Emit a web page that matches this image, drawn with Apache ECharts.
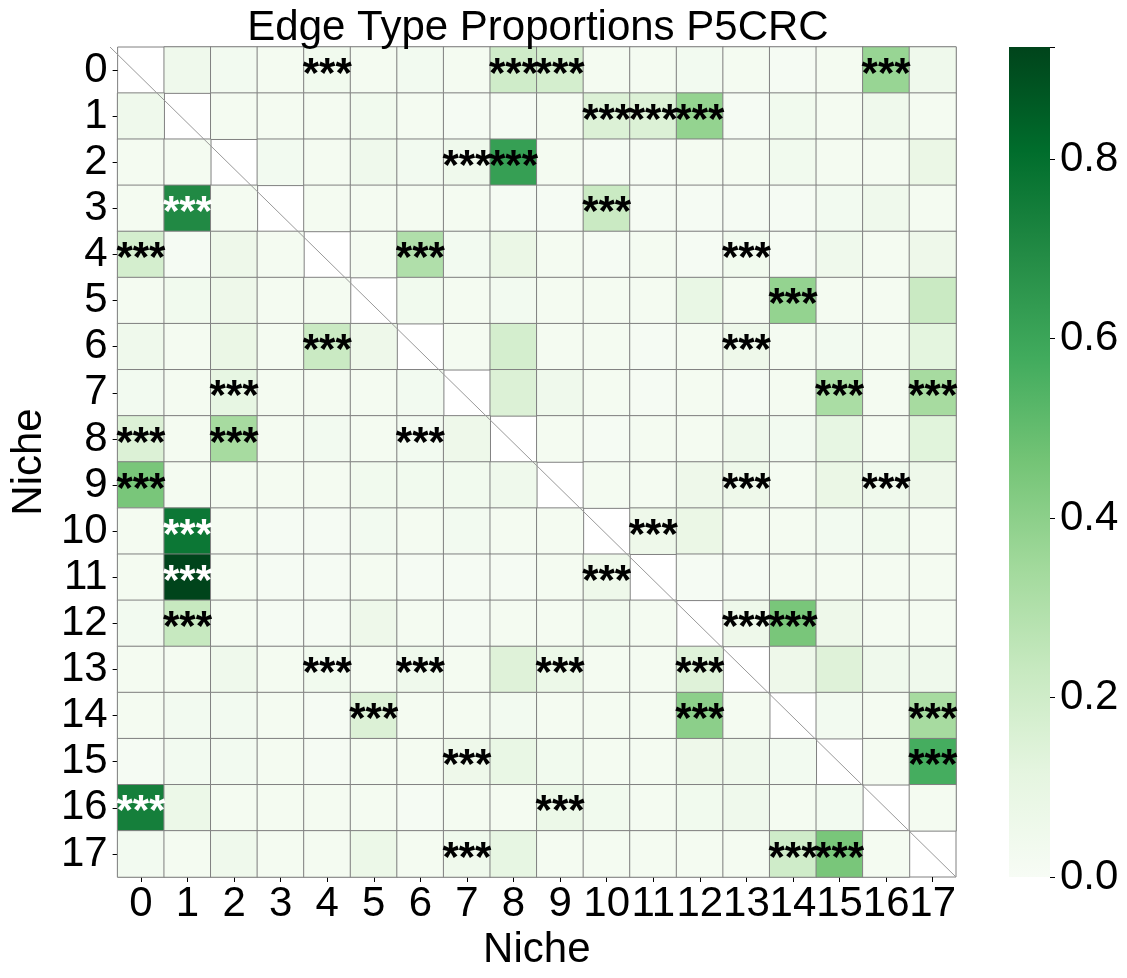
<!DOCTYPE html>
<html>
<head>
<meta charset="utf-8">
<script src="https://cdn.jsdelivr.net/npm/echarts@6/dist/echarts.min.js"></script>
<style>
    html, body {margin: 0; padding: 0; background: #fff;}
    #chart {width: 1127px; height: 978px;}
</style>
</head>
<body>
<div id="chart"></div>
<script>
const niches = ['0', '1', '2', '3', '4', '5', '6', '7', '8', '9', '10', '11', '12', '13', '14', '15', '16', '17'];

// row = source niche (y), column = target niche (x); diagonal is empty
const proportions = [
    [null, 0.05, 0.03, 0.02, 0.04, 0.02, 0.03, 0.02, 0.20, 0.18, 0.02, 0.02, 0.03, 0.02, 0.01, 0.02, 0.37, 0.05],
    [0.05, null, 0.02, 0.02, 0.02, 0.04, 0.02, 0.01, 0.01, 0.02, 0.15, 0.15, 0.38, 0.01, 0.04, 0.02, 0.05, 0.02],
    [0.02, 0.02, null, 0.03, 0.02, 0.05, 0.03, 0.05, 0.62, 0.02, 0.01, 0.01, 0.02, 0.02, 0.04, 0.02, 0.02, 0.08],
    [0.02, 0.70, 0.02, null, 0.02, 0.02, 0.02, 0.02, 0.01, 0.01, 0.22, 0.01, 0.01, 0.01, 0.01, 0.03, 0.05, 0.02],
    [0.18, 0.01, 0.06, 0.02, null, 0.02, 0.30, 0.03, 0.08, 0.02, 0.01, 0.02, 0.01, 0.04, 0.01, 0.05, 0.02, 0.06],
    [0.02, 0.04, 0.06, 0.02, 0.02, null, 0.04, 0.02, 0.03, 0.02, 0.02, 0.02, 0.09, 0.02, 0.38, 0.02, 0.02, 0.22],
    [0.05, 0.02, 0.08, 0.02, 0.22, 0.06, null, 0.02, 0.18, 0.02, 0.02, 0.01, 0.02, 0.06, 0.02, 0.03, 0.02, 0.12],
    [0.03, 0.02, 0.10, 0.02, 0.02, 0.02, 0.03, null, 0.15, 0.05, 0.02, 0.01, 0.02, 0.01, 0.02, 0.32, 0.02, 0.33],
    [0.15, 0.02, 0.33, 0.02, 0.03, 0.02, 0.03, 0.06, null, 0.02, 0.01, 0.02, 0.02, 0.05, 0.03, 0.10, 0.02, 0.13],
    [0.45, 0.02, 0.02, 0.02, 0.02, 0.04, 0.04, 0.04, 0.05, null, 0.02, 0.02, 0.06, 0.06, 0.02, 0.08, 0.05, 0.06],
    [0.02, 0.77, 0.02, 0.01, 0.01, 0.03, 0.02, 0.03, 0.02, 0.02, null, 0.06, 0.08, 0.02, 0.02, 0.03, 0.04, 0.02],
    [0.02, 0.925, 0.02, 0.01, 0.01, 0.02, 0.01, 0.01, 0.01, 0.02, 0.06, null, 0.01, 0.01, 0.02, 0.02, 0.02, 0.02],
    [0.03, 0.23, 0.02, 0.01, 0.01, 0.06, 0.02, 0.01, 0.02, 0.02, 0.04, 0.02, null, 0.06, 0.45, 0.06, 0.02, 0.02],
    [0.02, 0.02, 0.05, 0.02, 0.04, 0.02, 0.05, 0.02, 0.14, 0.07, 0.02, 0.02, 0.14, null, 0.06, 0.14, 0.05, 0.05],
    [0.02, 0.03, 0.03, 0.02, 0.01, 0.15, 0.02, 0.02, 0.03, 0.02, 0.02, 0.02, 0.40, 0.02, null, 0.03, 0.02, 0.33],
    [0.01, 0.03, 0.03, 0.02, 0.01, 0.02, 0.02, 0.06, 0.09, 0.04, 0.02, 0.02, 0.06, 0.05, 0.03, null, 0.02, 0.57],
    [0.74, 0.07, 0.02, 0.02, 0.02, 0.02, 0.01, 0.02, 0.02, 0.07, 0.04, 0.02, 0.04, 0.05, 0.02, 0.03, null, 0.02],
    [0.03, 0.02, 0.05, 0.02, 0.02, 0.07, 0.02, 0.05, 0.10, 0.02, 0.02, 0.02, 0.02, 0.02, 0.20, 0.45, 0.02, null]
];

// cells marked *** : [row, col]
const significant = [
    [0, 4], [0, 8], [0, 9], [0, 16],
    [1, 10], [1, 11], [1, 12],
    [2, 7], [2, 8],
    [3, 1], [3, 10],
    [4, 0], [4, 6], [4, 13],
    [5, 14],
    [6, 4], [6, 13],
    [7, 2], [7, 15], [7, 17],
    [8, 0], [8, 2], [8, 6],
    [9, 0], [9, 13], [9, 16],
    [10, 1], [10, 11],
    [11, 1], [11, 10],
    [12, 1], [12, 13], [12, 14],
    [13, 4], [13, 6], [13, 9], [13, 12],
    [14, 5], [14, 12], [14, 17],
    [15, 7], [15, 17],
    [16, 0], [16, 9],
    [17, 7], [17, 14], [17, 15]
];

const colorTicks = [0, 0.2, 0.4, 0.6, 0.8];
const vmax = 0.925;

const greens = ['#f7fcf5', '#e5f5e0', '#c7e9c0', '#a1d99b', '#74c476', '#41ab5d', '#238b45', '#006d2c', '#00441b'];
const FONT = '"Liberation Sans", Arial, sans-serif';
const FS = 42;

const sigSet = new Set(significant.map(p => p[0] + '_' + p[1]));

let cells = [];
proportions.forEach((row, r) => {
    row.forEach((v, c) => {
        if (v === null) {
            cells.push([c, r, '-']);
            return;
        }
        let item = {value: [c, r, v]};
        if (sigSet.has(r + '_' + c)) {
            item.label = {
                show: true,
                formatter: '***',
                color: v > 0.65 ? '#ffffff' : '#000000'
            };
        }
        cells.push(item);
    });
});

const grid = {left: 110, top: 47, width: 846, height: 830};

let option = {
    backgroundColor: '#ffffff',
    animation: false,
    textStyle: {fontFamily: FONT},
    title: {
        text: 'Edge Type Proportions P5CRC',
        left: 533,
        textAlign: 'center',
        top: 2,
        textStyle: {fontSize: FS, fontWeight: 'normal', color: '#000', fontFamily: FONT}
    },
    visualMap: {
        show: false,
        min: 0,
        max: vmax,
        dimension: 2,
        seriesIndex: 0,
        inRange: {color: greens}
    },
    grid: [
        Object.assign({show: true, borderColor: '#808080', borderWidth: 1, backgroundColor: 'transparent'}, grid),
        {left: 1009, top: 47, width: 41, height: 830},
        grid
    ],
    xAxis: [
        {
            type: 'category',
            gridIndex: 0,
            data: niches,
            name: 'Niche',
            nameLocation: 'middle',
            nameGap: 50,
            nameTextStyle: {fontSize: FS, color: '#000', fontFamily: FONT},
            axisLine: {show: false},
            axisTick: {show: true, alignWithLabel: true, length: 5, lineStyle: {color: '#000'}},
            axisLabel: {fontSize: FS, color: '#000', margin: 6, interval: 0, fontFamily: FONT},
            splitLine: {show: false}
        },
        {
            type: 'category',
            gridIndex: 1,
            data: [''],
            show: false
        },
        {
            type: 'value',
            gridIndex: 2,
            min: 0,
            max: niches.length,
            show: false
        }
    ],
    yAxis: [
        {
            type: 'category',
            gridIndex: 0,
            data: niches,
            inverse: true,
            name: 'Niche',
            nameLocation: 'middle',
            nameGap: 64,
            nameRotate: 90,
            nameTextStyle: {fontSize: FS, color: '#000', fontFamily: FONT},
            axisLine: {show: false},
            axisTick: {show: true, alignWithLabel: true, length: 5, lineStyle: {color: '#000'}},
            axisLabel: {fontSize: FS, color: '#000', margin: 10, interval: 0, fontFamily: FONT},
            splitLine: {show: false}
        },
        {
            type: 'value',
            gridIndex: 1,
            position: 'right',
            min: 0,
            max: vmax,
            interval: 0.2,
            axisLine: {show: false},
            axisTick: {show: true, length: 5, lineStyle: {color: '#000'}},
            axisLabel: {
                fontSize: FS, color: '#000', margin: 10, fontFamily: FONT,
                formatter: v => colorTicks.some(t => Math.abs(t - v) < 1e-6) ? v.toFixed(1) : ''
            },
            splitLine: {show: false}
        },
        {
            type: 'value',
            gridIndex: 2,
            min: 0,
            max: niches.length,
            inverse: true,
            show: false
        }
    ],
    series: [
        {
            type: 'heatmap',
            xAxisIndex: 0,
            yAxisIndex: 0,
            data: cells,
            itemStyle: {borderColor: '#808080', borderWidth: 1},
            label: {
                show: false,
                fontSize: FS,
                fontWeight: 'bold',
                fontFamily: FONT,
                offset: [0, 5]
            },
            emphasis: {disabled: true}
        },
        {
            type: 'bar',
            xAxisIndex: 1,
            yAxisIndex: 1,
            data: [vmax],
            barWidth: '100%',
            silent: true,
            itemStyle: {
                color: {
                    type: 'linear', x: 0, y: 1, x2: 0, y2: 0,
                    colorStops: greens.map((c, i) => ({offset: i / (greens.length - 1), color: c}))
                }
            }
        },
        {
            type: 'line',
            xAxisIndex: 2,
            yAxisIndex: 2,
            data: [[0, 0], [niches.length, niches.length]],
            symbol: 'none',
            silent: true,
            lineStyle: {color: '#999999', width: 1},
            z: 5
        }
    ]
};

let myChart = echarts.init(document.getElementById('chart'));
myChart.setOption(option);
</script>
</body>
</html>
